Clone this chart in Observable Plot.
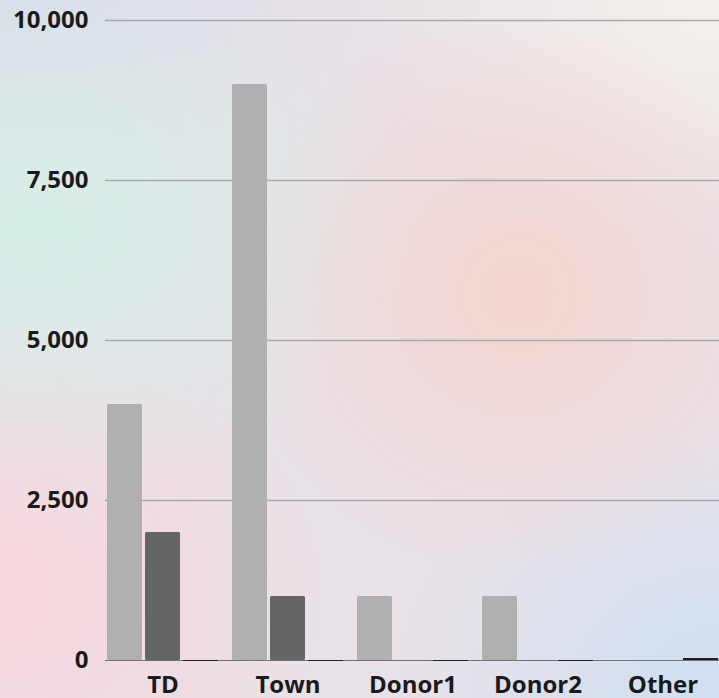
<!DOCTYPE html>
<html><head><meta charset="utf-8">
<script src="https://cdn.jsdelivr.net/npm/d3@7"></script>
<script src="https://cdn.jsdelivr.net/npm/@observablehq/plot@0.6"></script>
<style>
html,body{margin:0;padding:0;width:719px;height:698px;overflow:hidden}
body{
  background:
    radial-gradient(ellipse 40% 40% at 72% 42%, rgba(244,212,206,0.95), rgba(244,212,206,0) 100%),
    radial-gradient(ellipse 55% 38% at 5% 32%, rgba(214,238,232,1), rgba(214,238,232,0) 100%),
    radial-gradient(ellipse 45% 40% at 100% 100%, rgba(206,224,242,1), rgba(206,224,242,0) 100%),
    radial-gradient(ellipse 45% 38% at 0% 85%, rgba(248,214,220,1), rgba(248,214,220,0) 100%),
    radial-gradient(ellipse 50% 35% at 100% 0%, rgba(245,241,236,1), rgba(245,241,236,0) 100%),
    radial-gradient(ellipse 50% 25% at 0% 0%, rgba(216,221,235,1), rgba(216,221,235,0) 100%),
    #e9e2e8;
}
#chart{position:relative;width:719px;height:698px}
#chart > svg{position:absolute;left:0;top:0}
</style></head><body><div id="chart"></div>
<script>
const categories = ["TD", "Town", "Donor1", "Donor2", "Other"];
const seriesNames = ["Series 1", "Series 2", "Series 3"];
const series1 = [4000, 9000, 1000, 1000, 0];
const series2 = [2000, 1000, 0, 0, 0];
const series3 = [0, 0, 0, 0, 30];
const yTicks = [0, 2500, 5000, 7500, 10000];
const colors = ["#b0b0b0", "#636566", "#1e1e1e"];

const allSeries = [series1, series2, series3];
const data = categories.flatMap((c, i) => allSeries.map((s, j) => ({category: c, series: seriesNames[j], value: s[i]})));
const barData = data.filter(d => d.series !== seriesNames[2]);
const thirdData = data.filter(d => d.series === seriesNames[2]);

const common = {
  width: 719, height: 698,
  marginTop: 20, marginBottom: 38, marginRight: 0,
  style: {background: "transparent", fontFamily: "'Open Sans', sans-serif", fontSize: "24px", fontWeight: 700, color: "#1a1a1a", overflow: "visible"}
};

// Background layer: y axis, grid and baseline spanning the full width
const axisLayer = Plot.plot({
  ...common,
  marginLeft: 105,
  y: {domain: [0, 10000], ticks: yTicks, tickFormat: d3.format(","), tickSize: 0, tickPadding: 17, label: null},
  marks: [
    Plot.ruleY(yTicks.filter(t => t > 0), {stroke: "#a8a9ab", strokeWidth: 1.5}),
    Plot.ruleY([0], {stroke: "#747474", strokeWidth: 1.2})
  ]
});

// Bars layer: grouped bars faceted by category
const barLayer = Plot.plot({
  ...common,
  marginLeft: 107,
  fx: {domain: categories, paddingInner: 0.11, paddingOuter: 0, label: null, tickSize: 0, tickPadding: 15, axis: "bottom"},
  x: {domain: seriesNames, axis: null, paddingInner: 0.08, paddingOuter: 0},
  y: {domain: [0, 10000], axis: null},
  color: {domain: seriesNames, range: colors},
  marks: [
    Plot.barY(barData, {fx: "category", x: "series", y: "value", fill: "series", rx: 1.5}),
    Plot.barY(thirdData, {fx: "category", x: "series", y: "value", fill: "series"}),
    Plot.tickY(thirdData, {fx: "category", x: "series", y: "value", stroke: "series", strokeWidth: 1.2})
  ]
});

const el = document.getElementById("chart");
el.appendChild(axisLayer);
el.appendChild(barLayer);
</script></body></html>
